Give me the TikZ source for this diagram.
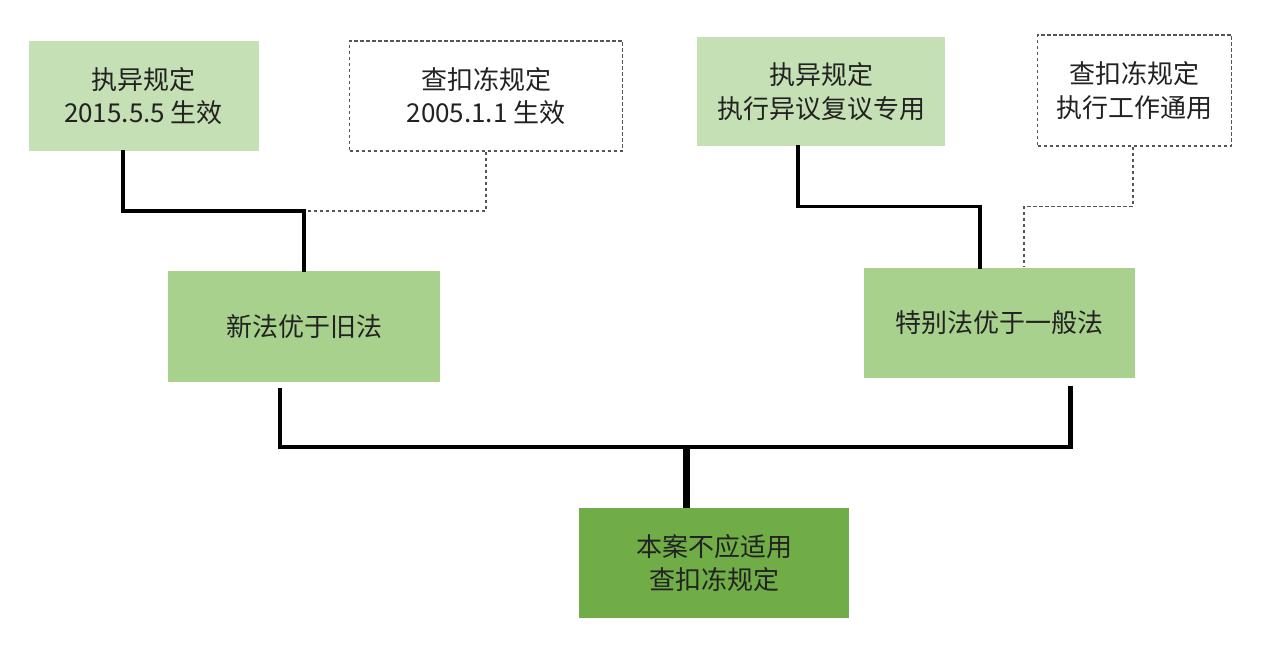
\documentclass[tikz,border=0pt]{standalone}
\usepackage{fontspec}
\setmainfont{Noto Sans CJK SC}
\definecolor{gLight}{HTML}{C5E0B4}
\definecolor{gMid}{HTML}{A9D18E}
\definecolor{gDark}{HTML}{70AD47}
\definecolor{txt}{HTML}{222222}
\definecolor{dashgray}{HTML}{555555}
\begin{document}
\begin{tikzpicture}[x=1pt,y=-1pt,
  box/.style={rectangle,inner sep=0pt,align=center,text=txt,
    font=\fontsize{26}{33.5}\selectfont},
  lightbox/.style={box,fill=gLight},
  midbox/.style={box,fill=gMid},
  darkbox/.style={box,fill=gDark},
  dashbox/.style={box,fill=white,draw=dashgray,line width=1.1pt,dash pattern=on 3.5pt off 2.5pt},
  solidline/.style={line width=3.2pt,line join=miter,line cap=rect},
  treeline/.style={line width=4.2pt,line join=miter},
  stemline/.style={line width=7pt},
  dashline/.style={draw=dashgray,line width=1.1pt,dash pattern=on 3.5pt off 2.5pt}
]
\useasboundingbox (0,0) rectangle (1280,650);
\fill[white] (0,0) rectangle (1280,650);

\node[lightbox,minimum width=230pt,minimum height=110pt] (b1) at (143.5,96) {执异规定\\2015.5.5 生效};
\node[dashbox,minimum width=273pt,minimum height=110pt] (b2) at (486,96) {查扣冻规定\\2005.1.1 生效};
\node[lightbox,minimum width=248pt,minimum height=109pt] (b3) at (821,91.5) {执异规定\\执行异议复议专用};
\node[dashbox,minimum width=194pt,minimum height=111pt] (b4) at (1134.5,90.5) {查扣冻规定\\执行工作通用};
\node[midbox,minimum width=272pt,minimum height=111pt] (b5) at (304,326.5) {新法优于旧法};
\node[midbox,minimum width=271pt,minimum height=110pt] (b6) at (999.5,322.5) {特别法优于一般法};
\node[darkbox,minimum width=270pt,minimum height=110pt] (b7) at (714,563) {本案不应适用\\查扣冻规定};

% top-left group
\coordinate (j1) at (304,211);
\draw[dashline] (b2.south) |- (j1);
\draw[solidline] ([xshift=-20.5pt]b1.south) |- (j1) -- (b5.north);

% top-right group
\coordinate (j2) at (980,206.5);
\coordinate (j3) at (1024,206.5);
\draw[dashline] ([xshift=-1.5pt]b4.south) |- (j3) -- (j3 |- b6.north);
\draw[solidline] ([xshift=-23pt]b3.south) |- (j2) -- (j2 |- b6.north);

% bottom tree
\coordinate (j4) at (686,447);
\draw[treeline] ([xshift=-24pt,yshift=-6pt]b5.south) |- ([xshift=71pt]b6.south |- j4) -- ([xshift=71pt,yshift=-8pt]b6.south);
\draw[stemline] ([yshift=2pt]j4) -- ([xshift=-28pt]b7.north);
\end{tikzpicture}
\end{document}
